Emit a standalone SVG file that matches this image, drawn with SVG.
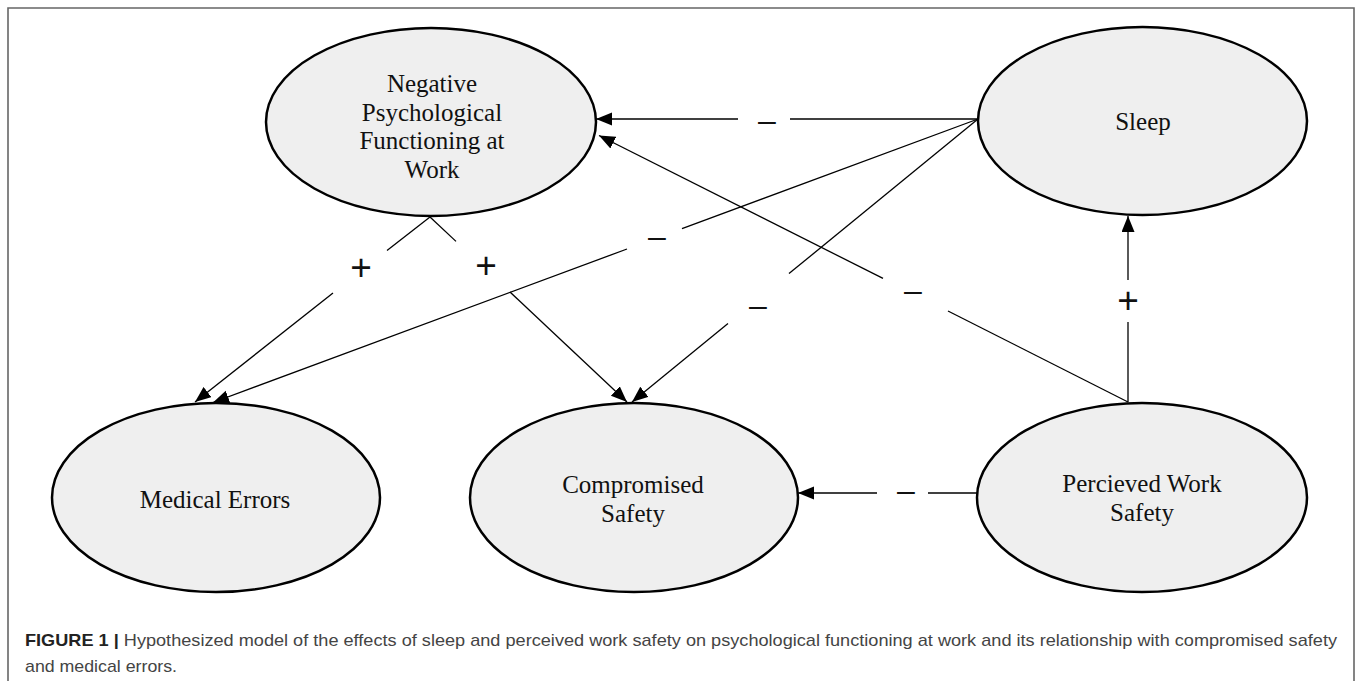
<svg xmlns="http://www.w3.org/2000/svg" width="1357" height="681" viewBox="0 0 1357 681">
<style>
.node ellipse{fill:#efefef;stroke:#000;stroke-width:2.5}
.node text{font-family:"Liberation Serif","Times New Roman",serif;font-size:25px;fill:#111;text-anchor:middle}
.conn line{stroke:#000;stroke-width:1.3;fill:none}
.lbl{font-family:"Liberation Sans",Arial,sans-serif;font-size:32px;fill:#111;text-anchor:middle}
.plus{font-size:37px;font-weight:300}
.cap{font-family:"Liberation Sans",Arial,sans-serif;font-size:17px;fill:#444}
</style>
<defs>
<marker id="ah" markerUnits="userSpaceOnUse" markerWidth="17" markerHeight="14" refX="16" refY="6.5" orient="auto">
<path d="M0,0 L16,6.5 L0,13 z" fill="#000"/>
</marker>
</defs>
<rect x="0" y="0" width="1357" height="681" fill="#fff"/>
<path d="M8,690 L8,8 L1354,8 L1354,690" fill="none" stroke="#666" stroke-width="1.6"/>

<g id="connectors" class="conn">
<g id="sleep-np">
<line x1="978" y1="119" x2="790" y2="119"/>
<line x1="738" y1="119" x2="596" y2="119" marker-end="url(#ah)"/>
</g>
<g id="sleep-me">
<line x1="978" y1="119" x2="682" y2="228.6"/>
<line x1="627" y1="249" x2="213" y2="402.5" marker-end="url(#ah)"/>
</g>
<g id="sleep-cs">
<line x1="978" y1="119" x2="789" y2="273.6"/>
<line x1="728" y1="323.5" x2="632" y2="402" marker-end="url(#ah)"/>
</g>
<g id="np-me">
<line x1="430" y1="217" x2="387" y2="250.6"/>
<line x1="333" y1="293" x2="195" y2="402" marker-end="url(#ah)"/>
</g>
<g id="np-cs">
<line x1="430" y1="217" x2="456" y2="241.4"/>
<line x1="510" y1="292" x2="627" y2="402" marker-end="url(#ah)"/>
</g>
<g id="pws-np">
<line x1="1128" y1="402" x2="948" y2="311"/>
<line x1="883" y1="278.4" x2="599" y2="135.5" marker-end="url(#ah)"/>
</g>
<g id="pws-sleep">
<line x1="1128" y1="402" x2="1128" y2="322"/>
<line x1="1128" y1="280" x2="1128" y2="216" marker-end="url(#ah)"/>
</g>
<g id="pws-cs">
<line x1="978" y1="493" x2="928" y2="493"/>
<line x1="877" y1="493" x2="798" y2="493" marker-end="url(#ah)"/>
</g>
<g id="labels">
<text class="lbl" x="767" y="131">–</text>
<text class="lbl" x="657" y="247">–</text>
<text class="lbl" x="758" y="316">–</text>
<text class="lbl" x="913" y="301">–</text>
<text class="lbl" x="906" y="501">–</text>
<text class="lbl plus" x="361" y="280">+</text>
<text class="lbl plus" x="486" y="278">+</text>
<text class="lbl plus" x="1128" y="313">+</text>
</g>
</g>

<g id="node-np" class="node">
<ellipse cx="431" cy="122" rx="165" ry="94"/>
<text x="432" y="92">Negative</text>
<text x="432" y="121">Psychological</text>
<text x="432" y="149">Functioning at</text>
<text x="432" y="178">Work</text>
</g>
<g id="node-sleep" class="node">
<ellipse cx="1142.5" cy="121" rx="164.5" ry="94"/>
<text x="1143" y="130">Sleep</text>
</g>
<g id="node-me" class="node">
<ellipse cx="216" cy="497.5" rx="164" ry="94.5"/>
<text x="215" y="508">Medical Errors</text>
</g>
<g id="node-cs" class="node">
<ellipse cx="634" cy="497.5" rx="164" ry="94.5"/>
<text x="633" y="493">Compromised</text>
<text x="633" y="522">Safety</text>
</g>
<g id="node-pws" class="node">
<ellipse cx="1142" cy="497.5" rx="165" ry="94.5"/>
<text x="1142" y="492">Percieved Work</text>
<text x="1142" y="521">Safety</text>
</g>

<g id="caption">
<text class="cap" x="25" y="646" textLength="1312" lengthAdjust="spacingAndGlyphs"><tspan font-weight="bold" fill="#222">FIGURE 1 | </tspan>Hypothesized model of the effects of sleep and perceived work safety on psychological functioning at work and its relationship with compromised safety</text>
<text class="cap" x="25" y="672" textLength="152" lengthAdjust="spacingAndGlyphs">and medical errors.</text>
</g>
</svg>
